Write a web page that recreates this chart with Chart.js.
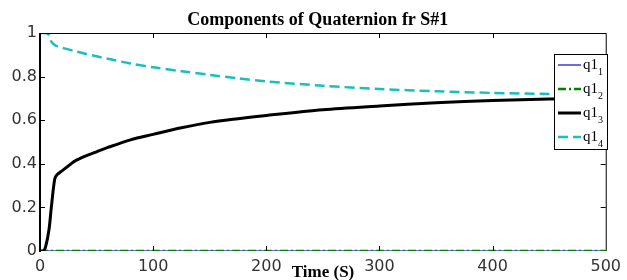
<!DOCTYPE html>
<html>
<head>
<meta charset="utf-8">
<script src="https://cdn.jsdelivr.net/npm/chart.js@4/dist/chart.umd.min.js"></script>
<style>
html,body{margin:0;padding:0;background:#fff;}
#wrap{width:627px;height:280px;position:relative;}
</style>
</head>
<body>
<div id="wrap"><canvas id="c" width="627" height="280"></canvas></div>
<script>
const chartTitle = "Components of Quaternion fr S#1";
const xTitle = "Time (S)";
const seriesNames = ["q1", "q1", "q1", "q1"];
const seriesSubs = ["1", "2", "3", "4"];
const time = [0, 3, 5, 8, 10, 13, 15, 20, 25, 30, 40, 50, 60, 80, 100, 125, 150, 175, 200, 250, 300, 350, 400, 450, 500];
const q1_1 = [0, 0, 0, 0, 0, 0, 0, 0, 0, 0, 0, 0, 0, 0, 0, 0, 0, 0, 0, 0, 0, 0, 0, 0, 0];
const q1_2 = [0, 0, 0, 0, 0, 0, 0, 0, 0, 0, 0, 0, 0, 0, 0, 0, 0, 0, 0, 0, 0, 0, 0, 0, 0];
const q1_3 = [0, 0, 0.02, 0.1, 0.2, 0.33, 0.35, 0.37, 0.39, 0.41, 0.435, 0.455, 0.475, 0.51, 0.535, 0.565, 0.59, 0.607, 0.622, 0.648, 0.665, 0.68, 0.69, 0.697, 0.70];
const q1_4 = [1, 1, 1, 0.99, 0.96, 0.945, 0.94, 0.932, 0.925, 0.918, 0.905, 0.893, 0.882, 0.86, 0.843, 0.825, 0.808, 0.792, 0.778, 0.758, 0.743, 0.733, 0.725, 0.72, 0.715];
const xTicks = [0, 100, 200, 300, 400, 500];
const yTicks = [0, 0.2, 0.4, 0.6, 0.8, 1];

const styles = [
  {color: '#3a3ad8', width: 1.5, dash: []},
  {color: '#008000', width: 2.5, dash: [8, 3, 2, 3]},
  {color: '#000000', width: 3, dash: []},
  {color: '#19bfbf', width: 2.5, dash: [10, 5]}
];
const seriesData = [q1_1, q1_2, q1_3, q1_4];

const datasets = seriesData.map((arr, i) => ({
  label: seriesNames[i] + seriesSubs[i],
  data: time.map((t, k) => ({x: t, y: arr[k]})),
  borderColor: styles[i].color,
  borderWidth: styles[i].width,
  borderDash: styles[i].dash,
  pointRadius: 0,
  tension: 0.3,
  fill: false,
  order: 4 - i
}));

const decor = {
  id: 'decor',
  afterDraw(chart) {
    const ctx = chart.ctx;
    const a = chart.chartArea;
    const xs = chart.scales.x, ys = chart.scales.y;
    ctx.save();
    ctx.strokeStyle = '#000';
    ctx.lineWidth = 1;
    ctx.beginPath();
    ctx.moveTo(a.left, a.top + 0.5); ctx.lineTo(a.right + 0.5, a.top + 0.5);
    ctx.lineTo(a.right + 0.5, a.bottom);
    ctx.stroke();
    ctx.lineWidth = 2;
    ctx.beginPath();
    ctx.moveTo(a.left, a.top); ctx.lineTo(a.left, a.bottom + 1);
    ctx.stroke();
    ctx.lineWidth = 1;
    ctx.beginPath();
    xTicks.forEach(v => {
      const px = Math.round(xs.getPixelForValue(v)) + 0.5;
      if (v > xTicks[0] && v < xTicks[xTicks.length - 1]) {
        ctx.moveTo(px, a.top); ctx.lineTo(px, a.top + 5);
        ctx.moveTo(px, a.bottom); ctx.lineTo(px, a.bottom - 5);
      }
    });
    yTicks.forEach(v => {
      const py = Math.round(ys.getPixelForValue(v)) + 0.5;
      if (v > yTicks[0] && v < yTicks[yTicks.length - 1]) {
        ctx.moveTo(a.left, py); ctx.lineTo(a.left + 5, py);
        ctx.moveTo(a.right, py); ctx.lineTo(a.right - 5, py);
      }
    });
    ctx.stroke();
    ctx.fillStyle = '#000';
    ctx.font = 'bold 18px "Liberation Serif", "Times New Roman", serif';
    ctx.textAlign = 'center';
    ctx.textBaseline = 'alphabetic';
    ctx.fillText(chartTitle, (a.left + a.right) / 2 - 5, 25);
    ctx.font = 'bold 17px "Liberation Serif", "Times New Roman", serif';
    ctx.fillText(xTitle, 323, 277);
    const lx = 554, ly = 54, lw = 53, lh = 95;
    ctx.fillStyle = '#fff';
    ctx.fillRect(lx, ly, lw, lh);
    ctx.strokeStyle = '#000';
    ctx.lineWidth = 1;
    ctx.strokeRect(lx + 0.5, ly + 0.5, lw, lh);
    const rows = [65, 89, 113, 137];
    chart.data.datasets.forEach((ds, i) => {
      const y = rows[i];
      ctx.strokeStyle = ds.borderColor;
      ctx.lineWidth = ds.borderWidth;
      ctx.setLineDash(ds.borderDash);
      ctx.beginPath();
      ctx.moveTo(558, y); ctx.lineTo(581, y);
      ctx.stroke();
      ctx.setLineDash([]);
      ctx.fillStyle = '#000';
      ctx.textAlign = 'left';
      ctx.font = '15px "Liberation Serif", "Times New Roman", serif';
      ctx.fillText(seriesNames[i], 583, y + 4);
      ctx.font = '10px "Liberation Serif", "Times New Roman", serif';
      ctx.fillText(seriesSubs[i], 598, y + 10);
    });
    ctx.restore();
  }
};

new Chart(document.getElementById('c'), {
  type: 'line',
  data: {datasets},
  options: {
    responsive: false,
    animation: false,
    events: [],
    layout: {padding: {top: 33, right: 16, left: 0, bottom: 0}},
    plugins: {legend: {display: false}, tooltip: {enabled: false}, title: {display: false}},
    scales: {
      x: {
        type: 'linear', min: 0, max: 500,
        afterFit(s) { s.height = 29; },
        afterBuildTicks(s) { s.ticks = xTicks.map(v => ({value: v})); },
        grid: {display: false, drawTicks: false},
        border: {display: false},
        ticks: {padding: 6, color: '#333', font: {family: '"DejaVu Sans"', size: 16}, maxRotation: 0, autoSkip: false,
                callback: v => String(+(+v).toFixed(1))}
      },
      y: {
        type: 'linear', min: 0, max: 1,
        afterFit(s) { s.width = 40; },
        afterBuildTicks(s) { s.ticks = yTicks.map(v => ({value: v})); },
        grid: {display: false, drawTicks: false},
        border: {display: false},
        ticks: {padding: 3, color: '#333', font: {family: '"DejaVu Sans"', size: 16}, autoSkip: false,
                callback: v => String(+(+v).toFixed(1))}
      }
    }
  },
  plugins: [decor]
});
</script>
</body>
</html>
